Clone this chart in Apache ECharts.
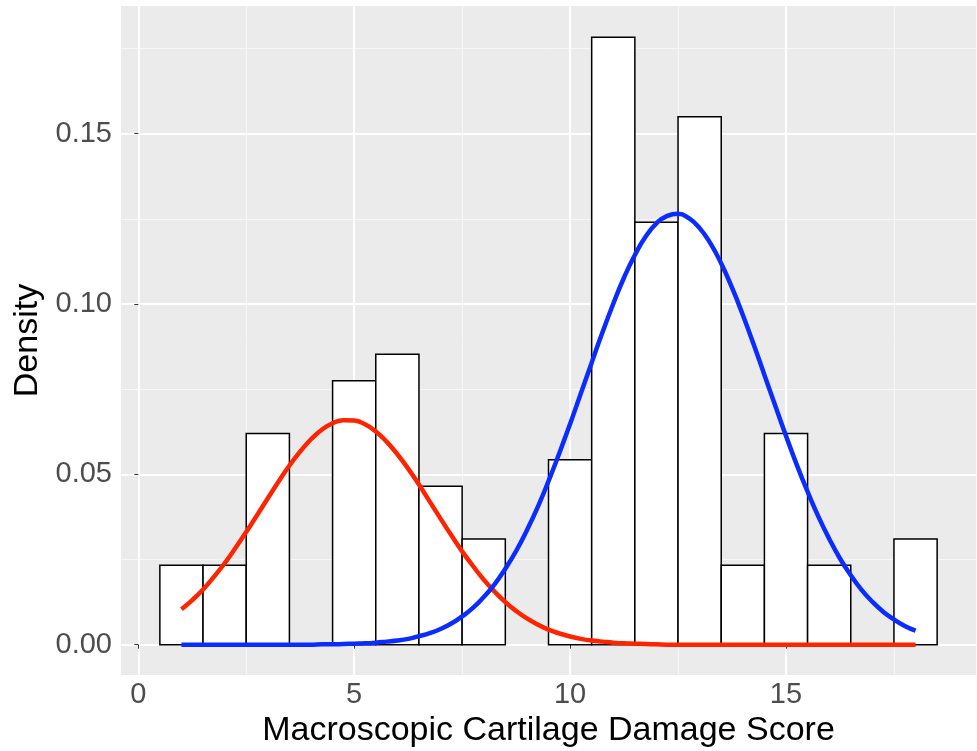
<!DOCTYPE html>
<html>
<head>
<meta charset="utf-8">
<script src="https://cdn.jsdelivr.net/npm/echarts@6/dist/echarts.min.js"></script>
<style>
  html, body { margin: 0; padding: 0; background: #fff; }
  #chart { width: 977px; height: 751px; }
</style>
</head>
<body>
<div id="chart"></div>
<script>
// histogram bins (width 1, centred on the score)
const binCenters = [1, 2, 3, 4, 5, 6, 7, 8, 9, 10, 11, 12, 13, 14, 15, 16, 17, 18]
const binDensity = [0.0233, 0.0233, 0.0620, 0, 0.0775, 0.0853, 0.0465, 0.0310, 0,
  0.0543, 0.1783, 0.1240, 0.1550, 0.0233, 0.0620, 0.0233, 0, 0.0310]

// fitted component curves, every 0.25 from 1 to 18
const curveX = [1, 1.25, 1.5, 1.75, 2, 2.25, 2.5, 2.75, 3, 3.25, 3.5, 3.75, 4, 4.25, 4.5, 4.75,
  5, 5.25, 5.5, 5.75, 6, 6.25, 6.5, 6.75, 7, 7.25, 7.5, 7.75, 8, 8.25, 8.5, 8.75,
  9, 9.25, 9.5, 9.75, 10, 10.25, 10.5, 10.75, 11, 11.25, 11.5, 11.75, 12, 12.25, 12.5, 12.75,
  13, 13.25, 13.5, 13.75, 14, 14.25, 14.5, 14.75, 15, 15.25, 15.5, 15.75, 16, 16.25, 16.5, 16.75,
  17, 17.25, 17.5, 17.75, 18]
const redCurve = [0.0104, 0.0131, 0.0162, 0.0199, 0.0239, 0.0284, 0.0331, 0.0380, 0.0430, 0.0479,
  0.0526, 0.0567, 0.0603, 0.0631, 0.0650, 0.0659, 0.0658, 0.0647, 0.0626, 0.0596, 0.0559, 0.0517,
  0.0470, 0.0420, 0.0370, 0.0321, 0.0274, 0.0231, 0.0191, 0.0156, 0.0125, 0.0099, 0.0077, 0.0059,
  0.0044, 0.0033, 0.0024, 0.0017, 0.0012, 0.0009, 0.0006, 0.0004, 0.0003, 0.0002, 0.0001,
  0, 0, 0, 0, 0, 0, 0, 0, 0, 0, 0, 0, 0, 0, 0, 0, 0, 0, 0, 0, 0, 0, 0, 0]
const blueCurve = [0, 0, 0, 0, 0, 0, 0, 0, 0, 0, 0, 0, 0, 0.0001, 0.0001, 0.0002, 0.0003, 0.0004,
  0.0006, 0.0009, 0.0012, 0.0017, 0.0025, 0.0034, 0.0046, 0.0062, 0.0083, 0.0108, 0.0140, 0.0177,
  0.0223, 0.0275, 0.0336, 0.0404, 0.0480, 0.0562, 0.0648, 0.0738, 0.0828, 0.0917, 0.1001, 0.1078,
  0.1144, 0.1198, 0.1237, 0.1259, 0.1265, 0.1252, 0.1223, 0.1178, 0.1119, 0.1048, 0.0968, 0.0882,
  0.0792, 0.0702, 0.0613, 0.0528, 0.0449, 0.0376, 0.0311, 0.0253, 0.0204, 0.0161, 0.0126, 0.0097,
  0.0074, 0.0055, 0.0041]

const xTicks = [0, 5, 10, 15]
const xMinor = [2.5, 7.5, 12.5, 17.5]
const yTicks = [0, 0.05, 0.10, 0.15]
const yMinor = [0.025, 0.075, 0.125, 0.175]

const X_MIN = -0.4, X_MAX = 19.4
const Y_MIN = -0.0089, Y_MAX = 0.1875
const FONT = 'Liberation Sans, Arial, sans-serif'

const chart = echarts.init(document.getElementById('chart'))

const axisBase = (min, max) => ({
  type: 'value',
  min: min,
  max: max
})

const option = {
  animation: false,
  grid: {
    left: 121, right: 1, top: 6, bottom: 76,
    outerBoundsMode: 'none',
    containLabel: false,
    show: true, backgroundColor: '#EBEBEB', borderWidth: 0
  },
  xAxis: [
    {
      ...axisBase(X_MIN, X_MAX),
      name: 'Macroscopic Cartilage Damage Score',
      nameLocation: 'middle',
      nameGap: 38,
      nameTextStyle: { fontFamily: FONT, fontSize: 34, color: '#000' },
      axisLine: { show: false },
      axisTick: { show: true, length: 4, customValues: xTicks, lineStyle: { color: '#333', width: 1 } },
      axisLabel: { customValues: xTicks, fontFamily: FONT, fontSize: 29, color: '#4D4D4D', margin: 5 },
      splitLine: { show: true, lineStyle: { color: '#FFFFFF', width: 2 } }
    },
    {
      ...axisBase(X_MIN, X_MAX),
      position: 'bottom',
      axisLine: { show: false },
      axisTick: { show: false, customValues: xMinor },
      axisLabel: { show: false, customValues: xMinor },
      splitLine: { show: true, lineStyle: { color: '#F7F7F7', width: 1 } }
    }
  ],
  yAxis: [
    {
      ...axisBase(Y_MIN, Y_MAX),
      name: 'Density',
      nameLocation: 'middle',
      nameGap: 75,
      nameTextStyle: { fontFamily: FONT, fontSize: 34, color: '#000' },
      axisLine: { show: false },
      axisTick: { show: true, length: 4, customValues: yTicks, lineStyle: { color: '#333', width: 1 } },
      axisLabel: {
        customValues: yTicks, fontFamily: FONT, fontSize: 29, color: '#4D4D4D', margin: 9,
        formatter: v => v.toFixed(2)
      },
      splitLine: { show: true, lineStyle: { color: '#FFFFFF', width: 2 } }
    },
    {
      ...axisBase(Y_MIN, Y_MAX),
      position: 'left',
      axisLine: { show: false },
      axisTick: { show: false, customValues: yMinor },
      axisLabel: { show: false, customValues: yMinor },
      splitLine: { show: true, lineStyle: { color: '#F7F7F7', width: 1 } }
    }
  ],
  series: [
    {
      type: 'custom',
      xAxisIndex: 0,
      yAxisIndex: 0,
      z: 2,
      data: binCenters.map((c, i) => [c, binDensity[i]]),
      renderItem: (params, api) => {
        const c = api.value(0)
        const h = api.value(1)
        if (!h) return null
        const p0 = api.coord([c - 0.5, 0])
        const p1 = api.coord([c + 0.5, h])
        return {
          type: 'rect',
          shape: { x: p0[0], y: p1[1], width: p1[0] - p0[0], height: p0[1] - p1[1] },
          style: { fill: '#FFFFFF', stroke: '#000000', lineWidth: 1.5 }
        }
      }
    },
    {
      type: 'line',
      z: 3,
      data: curveX.map((x, i) => [x, redCurve[i]]),
      smooth: true,
      symbol: 'none',
      lineStyle: { color: '#FF2400', width: 4.5 }
    },
    {
      type: 'line',
      z: 3,
      data: curveX.map((x, i) => [x, blueCurve[i]]),
      smooth: true,
      symbol: 'none',
      lineStyle: { color: '#0A2CFF', width: 4.5 }
    }
  ]
}

chart.setOption(option)
</script>
</body>
</html>
